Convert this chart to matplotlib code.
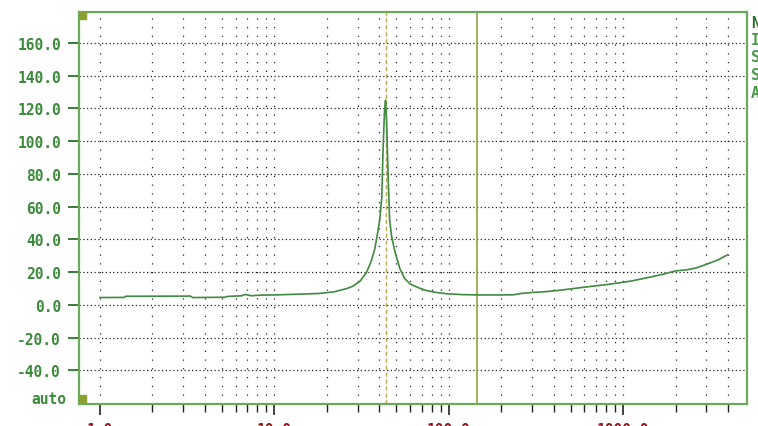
import matplotlib
matplotlib.use("Agg")
import matplotlib.pyplot as plt
from matplotlib.patches import Rectangle
from matplotlib.ticker import FixedLocator, NullFormatter, FixedFormatter

# ---- data ----
freq = [1.0, 1.38, 1.4, 3.3, 3.4, 5.2, 5.4, 6.5, 6.8, 7.4, 7.8, 8.5, 10, 14, 18, 22,
        26, 28.1, 31, 33.8, 36, 37.6, 39.1, 40.2, 41.3, 42, 42.8, 43.4, 44, 44.4, 45,
        45.8, 47, 49, 52.5, 56, 60, 67, 75, 85, 98, 120, 150, 200, 235, 260, 300, 350,
        420, 500, 650, 800, 920, 1100, 1400, 1700, 2000, 2300, 2600, 3000, 3500, 3950]
magnitude = [4.5, 4.6, 5.3, 5.4, 4.5, 4.7, 5.2, 5.6, 6.4, 5.6, 5.8, 6.0, 6.1, 6.6, 7.0, 8.0,
             10.0, 11.4, 14.5, 20.0, 27.0, 34.0, 44.0, 52.0, 66.0, 95.0, 118.0, 125.0, 112.0, 97.0, 75.0,
             52.0, 42.0, 33.0, 22.0, 16.0, 12.8, 10.5, 8.7, 7.6, 6.8, 6.3, 6.1, 6.1, 6.2, 7.0, 7.6, 8.0,
             8.8, 9.8, 11.3, 12.4, 13.3, 14.5, 16.8, 18.8, 20.8, 21.4, 22.5, 24.8, 27.5, 30.5]

y_ticks = [-40, -20, 0, 20, 40, 60, 80, 100, 120, 140, 160]
y_tick_labels = ["-40.0", "-20.0", "0.0", "20.0", "40.0", "60.0", "80.0",
                 "100.0", "120.0", "140.0", "160.0"]
x_major = [1, 10, 100, 1000]
x_major_labels = ["1.0", "10.0", "100.0", "1000.0"]
x_minor = [m * d for d in [1, 10, 100, 1000] for m in range(2, 10) if m * d <= 4000]
cursor_dashed = 43.6
cursor_solid = 145.0
side_letters = ["N", "I", "S", "S", "A"]

W, H = 758, 427
fig = plt.figure(figsize=(W / 100, H / 100), dpi=100)
L, R, T, B = 79, 747, 13, 405
ax = fig.add_axes([L / W, 1 - B / H, (R - L) / W, (B - T) / H])

ax.set_xscale("log")
ax.set_xlim(0.758, 5130)
ax.set_ylim(-60.5, 178.9)

mono = ["DejaVu Sans Mono"]

# grid
for yv in y_ticks:
    ax.axhline(yv, color="#222222", lw=0.9, ls=(0, (1, 2)), zorder=1)
for xv in x_major + x_minor:
    ax.axvline(xv, color="#222222", lw=0.9, ls=(0, (1, 6)), zorder=1)

# cursors
ax.axvline(cursor_dashed, color="#b8a850", lw=1.0, ls=(0, (3, 2)), zorder=2)
ax.axvline(cursor_solid, color="#98a040", lw=1.2, zorder=2)

# curve
ax.plot(freq, magnitude, color="#3f8a3f", lw=1.2, zorder=3)

# ticks
ax.yaxis.set_major_locator(FixedLocator(y_ticks))
ax.yaxis.set_major_formatter(FixedFormatter(y_tick_labels))
ax.xaxis.set_major_locator(FixedLocator(x_major))
ax.xaxis.set_major_formatter(FixedFormatter(x_major_labels))
ax.xaxis.set_minor_locator(FixedLocator(x_minor))
ax.xaxis.set_minor_formatter(NullFormatter())
ax.yaxis.set_minor_locator(FixedLocator([]))

ax.tick_params(axis="y", which="major", direction="out", length=8, width=1.4,
               color="#3a7a3a", pad=5, labelsize=10.5, labelcolor="#3a8a3a")
ax.tick_params(axis="x", which="major", direction="out", length=8, width=1.2,
               color="#222222", pad=5, labelsize=10.5, labelcolor="#8b1a1a")
ax.tick_params(axis="x", which="minor", direction="out", length=6, width=1.0,
               color="#222222")
for lab in ax.get_yticklabels() + ax.get_xticklabels():
    lab.set_family(mono)
    lab.set_fontweight("bold")

for sp in ax.spines.values():
    sp.set_color("#6aaa5a")
    sp.set_linewidth(1.6)

# corner markers
sx = 7 / (R - L)
sy = 7 / (B - T)
ax.add_patch(Rectangle((0, 1 - sy), sx, sy, transform=ax.transAxes,
                       color="#8aa030", zorder=5, clip_on=False))
ax.add_patch(Rectangle((0, 0.005), sx, sy, transform=ax.transAxes,
                       color="#8aa030", zorder=5, clip_on=False))

# "auto" label
fig.text(66 / W, 1 - 400 / H, "auto", ha="right", va="center", family=mono,
         fontweight="bold", fontsize=10.5, color="#3a8a3a")

# side letters (cut at right edge)
side_colors = ["#2a6a2a", "#4a9a4a", "#4a9a4a", "#4a9a4a", "#4a9a4a"]
for i, (ch, c) in enumerate(zip(side_letters, side_colors)):
    fig.text(751 / W, 1 - (23 + 17.5 * i) / H, ch, ha="left", va="center",
             family=mono, fontweight="bold", fontsize=11, color=c)

fig.savefig("out.png", dpi=100)
